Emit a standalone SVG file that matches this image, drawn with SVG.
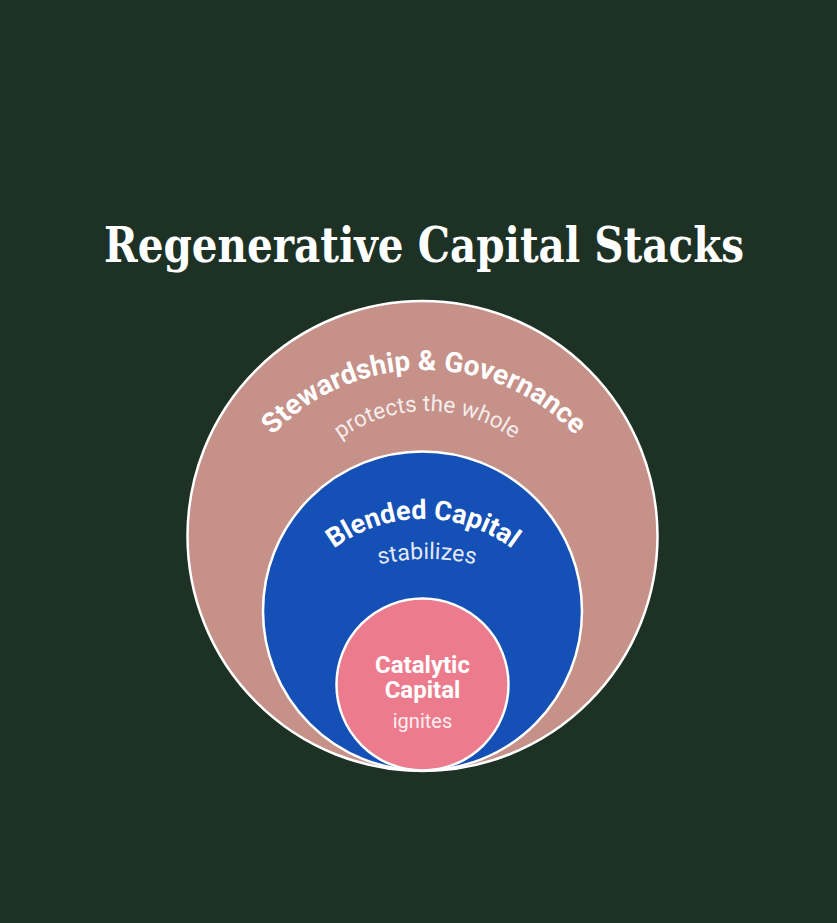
<svg xmlns="http://www.w3.org/2000/svg" width="837" height="923" viewBox="0 0 837 923">
  <style>
    .title { font-family: "DejaVu Serif", "Liberation Serif", serif; font-weight: bold; fill: #ffffff; }
    .ring { stroke: #ffffff; stroke-width: 2.5; }
    .lbl { font-family: Roboto, "Liberation Sans", sans-serif; font-weight: bold; fill: #ffffff; }
    .sub { font-family: Roboto, "Liberation Sans", sans-serif; font-weight: normal; fill: #ffffff; }
  </style>
  <defs>
    <path id="arcSteward" d="M 216 578 A 208 208 0 0 1 632 578"/>
    <path id="arcProtects" d="M 280 558 A 147 147 0 0 1 574 558"/>
    <path id="arcBlended" d="M 275 667 A 148 148 0 0 1 571 667"/>
    <path id="arcStab" d="M 219 767 A 208 208 0 0 1 635 767"/>
  </defs>
  <rect width="837" height="923" fill="#1d3125"/>
  <text class="title" x="424" y="262" font-size="48" text-anchor="middle" textLength="640" lengthAdjust="spacingAndGlyphs">Regenerative Capital Stacks</text>

  <g id="stewardship">
    <circle class="ring" cx="422.5" cy="536" r="235" fill="#c59189"/>
    <text class="lbl" font-size="28"><textPath href="#arcSteward" startOffset="50%" text-anchor="middle">Stewardship &amp; Governance</textPath></text>
    <text class="sub" font-size="22.5" fill-opacity="0.85"><textPath href="#arcProtects" startOffset="50%" text-anchor="middle">protects the whole</textPath></text>
  </g>

  <g id="blended">
    <circle class="ring" cx="422.5" cy="611" r="159.5" fill="#1450b5"/>
    <text class="lbl" font-size="27"><textPath href="#arcBlended" startOffset="50%" text-anchor="middle">Blended Capital</textPath></text>
    <text class="sub" font-size="23" fill-opacity="0.9"><textPath href="#arcStab" startOffset="50%" text-anchor="middle">stabilizes</textPath></text>
  </g>

  <g id="catalytic">
    <circle class="ring" cx="422.5" cy="684.5" r="86" fill="#ec7c8d"/>
    <text class="lbl" font-size="24" x="422.5" y="673" text-anchor="middle">Catalytic</text>
    <text class="lbl" font-size="24" x="422.5" y="698" text-anchor="middle">Capital</text>
    <text class="sub" font-size="20" x="422.5" y="728" text-anchor="middle" fill-opacity="0.9">ignites</text>
  </g>
</svg>
